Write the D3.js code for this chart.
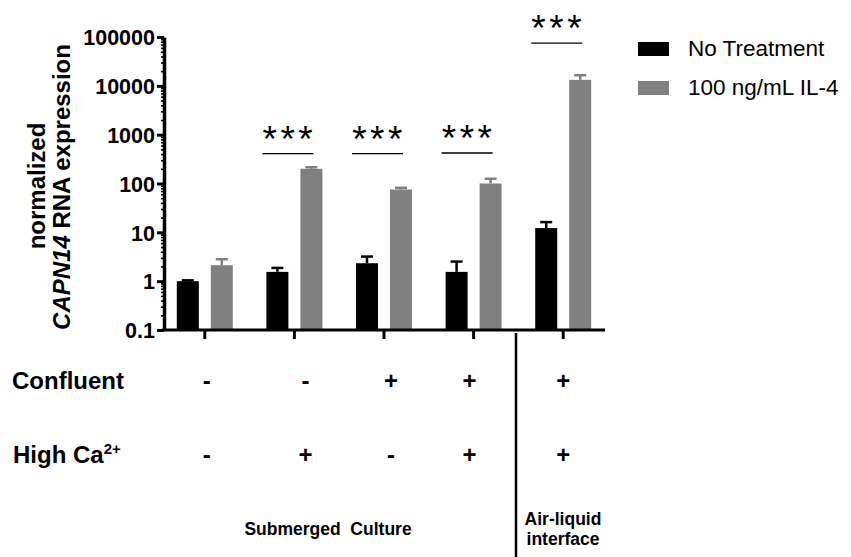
<!DOCTYPE html>
<html>
<head>
<meta charset="utf-8">
<script src="https://cdn.jsdelivr.net/npm/d3@7"></script>
<style>
  body { margin: 0; background: #fff; }
  svg { display: block; font-family: "Liberation Sans", Arial, sans-serif; }
</style>
</head>
<body>
<svg id="chart" width="851" height="557"></svg>
<script>
// CAPN14 expression, log-scale grouped bars with upper error bars

const groups = ['g1', 'g2', 'g3', 'g4', 'g5'];
const seriesNames = ['No Treatment', '100 ng/mL IL-4'];
const seriesColors = ['#000000', '#808080'];

const noTreatment = [1.0, 1.55, 2.33, 1.55, 12.2];
const noTreatmentErr = [1.04, 1.87, 3.19, 2.52, 16.2];
const il4 = [2.12, 200, 75.5, 100, 13250];
const il4Err = [2.81, 215, 81.7, 125, 16500];

// significance bar level (in data units), null = none
const sigLevels = [null, 410, 410, 420, 75000];

const yTicks = [0.1, 1, 10, 100, 1000, 10000, 100000];
const yTickLabels = ['0.1', '1', '10', '100', '1000', '10000', '100000'];

const confluent = ['-', '-', '+', '+', '+'];
const highCa = ['-', '+', '-', '+', '+'];

const svg = d3.select('#chart');
const font = '"Liberation Sans", Arial, sans-serif';

const x = d3.scaleBand().domain(groups).range([160, 608]);
const x1 = d3.scaleBand().domain([0, 1]).range([-28, 28]).paddingInner(0.353);
const y = d3.scaleLog().domain([0.1, 100000]).range([330, 37]);

const means = [noTreatment, il4];
const errs = [noTreatmentErr, il4Err];
const bars = [];
groups.forEach((g, i) => {
    [0, 1].forEach(s => bars.push({ g, s, v: means[s][i], e: errs[s][i] }));
});

// bars
svg.append('g').selectAll('rect').data(bars).enter().append('rect')
    .attr('x', d => x(d.g) + x.bandwidth() / 2 + x1(d.s))
    .attr('width', x1.bandwidth())
    .attr('y', d => y(d.v))
    .attr('height', d => y(0.1) - y(d.v))
    .attr('fill', d => seriesColors[d.s]);

// error bars (upper only)
const eb = svg.append('g');
bars.forEach(d => {
    const cx = x(d.g) + x.bandwidth() / 2 + x1(d.s) + x1.bandwidth() / 2;
    const col = seriesColors[d.s];
    eb.append('line').attr('x1', cx).attr('x2', cx).attr('y1', y(d.v)).attr('y2', y(d.e))
        .attr('stroke', col).attr('stroke-width', 2.5);
    eb.append('line').attr('x1', cx - 6).attr('x2', cx + 6).attr('y1', y(d.e)).attr('y2', y(d.e))
        .attr('stroke', col).attr('stroke-width', 2.5);
});

// y axis: minor ticks, then major ticks with labels
const minor = [];
for (let k = -1; k < 5; k++) for (let m = 2; m <= 9; m++) minor.push(m * Math.pow(10, k));

const yAxisG = svg.append('g').attr('transform', 'translate(164,0)');
yAxisG.call(d3.axisLeft(y).tickValues(minor).tickSize(3).tickSizeOuter(0).tickFormat(''));
yAxisG.selectAll('.tick line').attr('stroke-width', 1.6);
yAxisG.select('.domain').remove();
const yMajor = svg.append('g').attr('transform', 'translate(164,0)')
    .call(d3.axisLeft(y).tickValues(yTicks).tickSize(7).tickSizeOuter(0).tickPadding(2)
        .tickFormat((d, i) => yTickLabels[i]));
yMajor.selectAll('.tick line').attr('stroke-width', 3);
yMajor.select('.domain').attr('stroke-width', 3.5);
yMajor.selectAll('text').attr('font-family', font).attr('font-size', 21.5)
    .attr('font-weight', 'bold').attr('fill', '#000').attr('dy', '0.36em');

// x axis
const xAxisG = svg.append('g').attr('transform', 'translate(0,330)')
    .call(d3.axisBottom(x).tickSize(9).tickSizeOuter(0).tickFormat(''));
xAxisG.select('.domain').attr('d', 'M162,0H605').attr('stroke-width', 3);
xAxisG.selectAll('.tick line').attr('stroke-width', 3);

// y axis title
svg.append('text').attr('transform', 'translate(45,186) rotate(-90)')
    .attr('text-anchor', 'middle').attr('font-size', 24).attr('font-weight', 'bold')
    .text('normalized');
const t2 = svg.append('text').attr('transform', 'translate(70,187) rotate(-90)')
    .attr('text-anchor', 'middle').attr('font-size', 24).attr('font-weight', 'bold');
t2.append('tspan').attr('font-style', 'italic').text('CAPN14');
t2.append('tspan').text(' RNA expression');

// significance marks
groups.forEach((g, i) => {
    if (sigLevels[i] == null) return;
    const c = x(g) + x.bandwidth() / 2;
    const ly = y(sigLevels[i]);
    svg.append('line').attr('x1', c - 32).attr('x2', c + 19).attr('y1', ly).attr('y2', ly)
        .attr('stroke', '#000').attr('stroke-width', 1.4);
    svg.append('text').attr('x', c - 5).attr('y', ly - 2).attr('text-anchor', 'middle')
        .attr('font-size', 37).attr('letter-spacing', 3.5).text('***');
});

// legend
seriesNames.forEach((name, i) => {
    const ly = 42 + i * 39;
    svg.append('rect').attr('x', 638).attr('y', ly).attr('width', 31).attr('height', 14)
        .attr('fill', seriesColors[i]);
    svg.append('text').attr('x', 688).attr('y', ly + 14).attr('font-size', 22.5).text(name);
});

// condition table
const tableShift = [2, 11, 7, -4, 0];
const row = (vals, by) => {
    groups.forEach((g, i) => {
        svg.append('text').attr('x', x(g) + x.bandwidth() / 2 + tableShift[i]).attr('y', by)
            .attr('text-anchor', 'middle').attr('font-size', 24).attr('font-weight', 'bold')
            .text(vals[i]);
    });
};
svg.append('text').attr('x', 12).attr('y', 389).attr('font-size', 24).attr('font-weight', 'bold')
    .text('Confluent');
row(confluent, 389);
const hc = svg.append('text').attr('x', 13).attr('y', 463).attr('font-size', 24).attr('font-weight', 'bold');
hc.append('tspan').text('High Ca');
hc.append('tspan').attr('font-size', 15).attr('dy', -9).text('2+');
row(highCa, 463);

// divider
svg.append('line').attr('x1', 516).attr('x2', 516).attr('y1', 333).attr('y2', 557)
    .attr('stroke', '#000').attr('stroke-width', 2.5);

// culture labels
svg.append('text').attr('x', 328).attr('y', 535).attr('text-anchor', 'middle')
    .attr('font-size', 17.5).attr('font-weight', 'bold').style('white-space', 'pre')
    .text('Submerged  Culture');
svg.append('text').attr('x', 563).attr('y', 525).attr('text-anchor', 'middle')
    .attr('font-size', 17.5).attr('font-weight', 'bold').text('Air-liquid');
svg.append('text').attr('x', 563).attr('y', 545).attr('text-anchor', 'middle')
    .attr('font-size', 17.5).attr('font-weight', 'bold').text('interface');
</script>
</body>
</html>
